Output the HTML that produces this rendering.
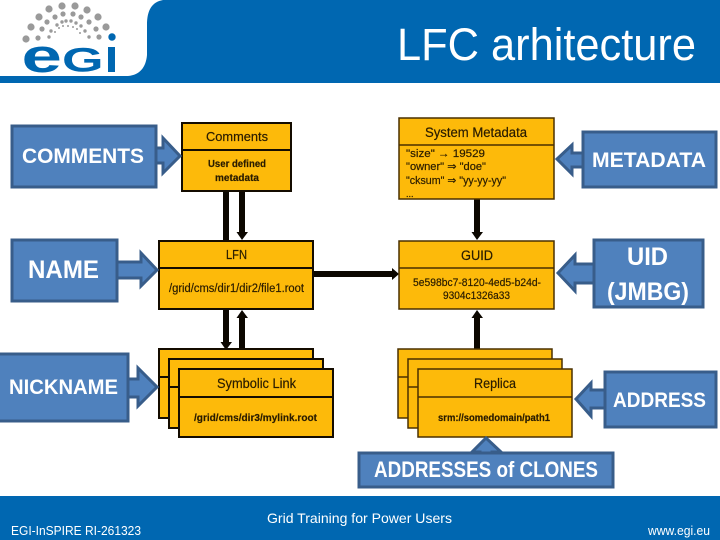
<!DOCTYPE html>
<html><head><meta charset="utf-8"><title>LFC arhitecture</title>
<style>
html,body{margin:0;padding:0;background:#fff;width:720px;height:540px;overflow:hidden}
svg{display:block}
text{font-family:"Liberation Sans",sans-serif}
.w{fill:#fff;font-weight:700}
.d{fill:#2a1c00;stroke:#2a1c00;stroke-width:.2}
.b{fill:#4F81BD;stroke:#385D8A;stroke-width:3}
.o{fill:#FDBA0A;stroke:#140c00;stroke-width:2}
.o2{fill:#FDBA0A;stroke:#4a3000;stroke-width:1.5}
.l{stroke:#140c00;stroke-width:2}
.l2{stroke:#4a3000;stroke-width:1.5}
</style></head><body>
<svg width="720" height="540" viewBox="0 0 720 540" xmlns="http://www.w3.org/2000/svg">
<path d="M720 0H163C152 2 147 10 147 25V55C146 67 140 75 128 76H0V83H720Z" fill="#0067B1"/>
<rect x="0" y="496" width="720" height="44" fill="#0067B1"/>
<g fill="#9a9a9a">
<circle cx="26" cy="39" r="3.6"/><circle cx="31" cy="27" r="3.6"/><circle cx="39" cy="17" r="3.6"/><circle cx="49" cy="9" r="3.6"/><circle cx="62" cy="6" r="3.6"/><circle cx="75" cy="6" r="3.6"/><circle cx="87" cy="10" r="3.6"/><circle cx="98" cy="17" r="3.6"/><circle cx="106" cy="27" r="3.6"/>
<circle cx="38" cy="38" r="2.6"/><circle cx="42" cy="29" r="2.6"/><circle cx="47" cy="22" r="2.6"/><circle cx="55" cy="17" r="2.6"/><circle cx="63" cy="14" r="2.6"/><circle cx="73" cy="14" r="2.6"/><circle cx="81" cy="17" r="2.6"/><circle cx="89" cy="22" r="2.6"/><circle cx="96" cy="29" r="2.6"/><circle cx="99" cy="37" r="2.6"/>
<circle cx="49" cy="37" r="1.7"/><circle cx="51" cy="31" r="1.7"/><circle cx="57" cy="25" r="1.7"/><circle cx="62" cy="22" r="1.7"/><circle cx="66" cy="21" r="1.7"/><circle cx="71" cy="21" r="1.7"/><circle cx="76" cy="23" r="1.7"/><circle cx="81" cy="26" r="1.7"/><circle cx="85" cy="31" r="1.7"/><circle cx="89" cy="37" r="1.7"/>
<circle cx="55" cy="32" r="1"/><circle cx="59" cy="28" r="1"/><circle cx="63" cy="26" r="1"/><circle cx="68" cy="26" r="1"/><circle cx="73" cy="27" r="1"/><circle cx="77" cy="29" r="1"/><circle cx="80" cy="33" r="1"/>
</g>
<circle cx="112" cy="37" r="3.7" fill="#0067B1"/>
<g fill="#0067B1" font-weight="700">
<text transform="translate(21.500 72) scale(2.2 1.42)" font-size="33">e</text>
<text transform="translate(62 71.500) scale(1.62 1.04)" font-size="33">G</text>
<rect x="108" y="47" width="7" height="25"/>
</g>
<text x="397" y="60" font-size="45" fill="#fff" textLength="299" lengthAdjust="spacingAndGlyphs">LFC arhitecture</text>

<g fill="#0c0700">
<rect x="223" y="191" width="6" height="50"/>
<rect x="239" y="191" width="6" height="42"/><path d="M236.500 232H248L242 240Z"/>
<rect x="223" y="309" width="6" height="34"/><path d="M220.500 342H232L226 350Z"/>
<rect x="239" y="317" width="6" height="32"/><path d="M236.500 318H248L242 310Z"/>
<rect x="474" y="199" width="6" height="34"/><path d="M471.500 232H483L477 240Z"/>
<rect x="474" y="317" width="6" height="32"/><path d="M471.500 318H483L477 310Z"/>
<rect x="313" y="271" width="80" height="6"/><path d="M392 268V280L399 274Z"/>
</g>

<rect class="o" x="182" y="123" width="109" height="68"/><line class="l" x1="182" x2="291" y1="150" y2="150"/>
<rect class="o" x="159" y="241" width="154" height="68"/><line class="l" x1="159" x2="313" y1="268" y2="268"/>
<rect class="o" x="159" y="349" width="154" height="69"/><line class="l" x1="159" x2="313" y1="377" y2="377"/>
<rect class="o" x="169" y="359" width="154" height="69"/><line class="l" x1="169" x2="323" y1="387" y2="387"/>
<rect class="o" x="179" y="369" width="154" height="68"/><line class="l" x1="179" x2="333" y1="397" y2="397"/>
<rect class="o2" x="399" y="118" width="155" height="81"/><line class="l2" x1="399" x2="554" y1="145" y2="145"/>
<rect class="o2" x="399" y="241" width="155" height="68"/><line class="l2" x1="399" x2="554" y1="268" y2="268"/>
<rect class="o2" x="398" y="349" width="154" height="69"/><line class="l2" x1="398" x2="552" y1="377" y2="377"/>
<rect class="o2" x="408" y="359" width="154" height="69"/><line class="l2" x1="408" x2="562" y1="387" y2="387"/>
<rect class="o2" x="418" y="369" width="154" height="68"/><line class="l2" x1="418" x2="572" y1="397" y2="397"/>

<path class="b" d="M156 148H163V138L180 156L163 173V163H156Z"/>
<path class="b" d="M117 262H141V253L157 270L141 286V278H117Z"/>
<path class="b" d="M128 379H138V368L157 387L138 406V397H128Z"/>
<path class="b" d="M583 153H572V145L557 159L572 174V167H583Z"/>
<path class="b" d="M594 264H575V255L558 273L575 291V283H594Z"/>
<path class="b" d="M605 390H591V383L576 399L591 416V408H605Z"/>
<path class="b" d="M480 453V452H472L486 438L501 452H492V453Z"/>
<rect class="b" x="12" y="126" width="144" height="61"/>
<rect class="b" x="12" y="240" width="105" height="61"/>
<rect class="b" x="-3" y="354" width="131" height="67"/>
<rect class="b" x="583" y="132" width="133" height="55"/>
<rect class="b" x="594" y="240" width="109" height="67"/>
<rect class="b" x="605" y="372" width="111" height="55"/>
<rect class="b" x="359" y="453" width="254" height="34"/>

<g class="w">
<text x="22" y="163" font-size="21" textLength="122" lengthAdjust="spacingAndGlyphs">COMMENTS</text>
<text x="28" y="278" font-size="25" textLength="71" lengthAdjust="spacingAndGlyphs">NAME</text>
<text x="9" y="394" font-size="21" textLength="109" lengthAdjust="spacingAndGlyphs">NICKNAME</text>
<text x="592" y="167" font-size="21" textLength="114" lengthAdjust="spacingAndGlyphs">METADATA</text>
<text x="627" y="265" font-size="25" textLength="41" lengthAdjust="spacingAndGlyphs">UID</text>
<text x="607" y="300" font-size="25" textLength="82" lengthAdjust="spacingAndGlyphs">(JMBG)</text>
<text x="613" y="407" font-size="21" textLength="93" lengthAdjust="spacingAndGlyphs">ADDRESS</text>
<text x="374" y="477" font-size="22" textLength="224" lengthAdjust="spacingAndGlyphs">ADDRESSES of CLONES</text>
</g>

<g class="d">
<text x="206" y="141" font-size="13" textLength="62" lengthAdjust="spacingAndGlyphs">Comments</text>
<text x="208" y="167" font-size="10.500" font-weight="700" textLength="58" lengthAdjust="spacingAndGlyphs">User defined</text>
<text x="215" y="181" font-size="10.500" font-weight="700" textLength="44" lengthAdjust="spacingAndGlyphs">metadata</text>
<text x="226" y="259" font-size="13" textLength="21" lengthAdjust="spacingAndGlyphs">LFN</text>
<text x="169" y="292" font-size="11.500" textLength="135" lengthAdjust="spacingAndGlyphs">/grid/cms/dir1/dir2/file1.root</text>
<text x="425" y="137" font-size="13.500" textLength="102" lengthAdjust="spacingAndGlyphs">System Metadata</text>
<text x="406" y="157" font-size="11" textLength="79" lengthAdjust="spacingAndGlyphs">"size" → 19529</text>
<text x="406" y="170" font-size="11" textLength="80" lengthAdjust="spacingAndGlyphs">"owner" ⇒ "doe"</text>
<text x="406" y="184" font-size="11" textLength="100" lengthAdjust="spacingAndGlyphs">"cksum" ⇒ "yy-yy-yy"</text>
<text x="406" y="197" font-size="9">...</text>
<text x="461" y="260" font-size="13.500" textLength="32" lengthAdjust="spacingAndGlyphs">GUID</text>
<text x="413" y="286" font-size="11" textLength="128" lengthAdjust="spacingAndGlyphs">5e598bc7-8120-4ed5-b24d-</text>
<text x="443" y="299" font-size="11" textLength="67" lengthAdjust="spacingAndGlyphs">9304c1326a33</text>
<text x="217" y="388" font-size="14" textLength="79" lengthAdjust="spacingAndGlyphs">Symbolic Link</text>
<text x="194" y="421" font-size="10.500" font-weight="700" textLength="123" lengthAdjust="spacingAndGlyphs">/grid/cms/dir3/mylink.root</text>
<text x="474" y="388" font-size="14" textLength="42" lengthAdjust="spacingAndGlyphs">Replica</text>
<text x="438" y="421" font-size="10.500" font-weight="700" textLength="112" lengthAdjust="spacingAndGlyphs">srm://somedomain/path1</text>
</g>

<g fill="#fff">
<text x="11" y="535" font-size="12.500" textLength="130" lengthAdjust="spacingAndGlyphs">EGI-InSPIRE RI-261323</text>
<text x="267" y="523" font-size="14" textLength="185" lengthAdjust="spacingAndGlyphs">Grid Training for Power Users</text>
<text x="648" y="535" font-size="12.500" textLength="62" lengthAdjust="spacingAndGlyphs">www.egi.eu</text>
</g>
</svg>
</body></html>
